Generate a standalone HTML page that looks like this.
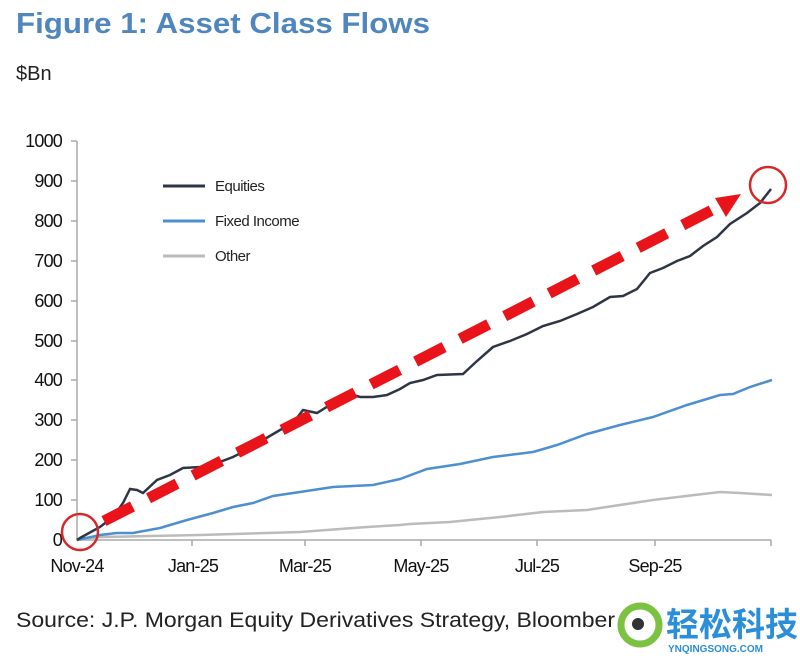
<!DOCTYPE html><html><head><style>body{margin:0;background:#fff;width:800px;height:655px;overflow:hidden;font-family:"Liberation Sans",Arial,sans-serif}</style></head><body>
<svg width="800" height="655" xmlns="http://www.w3.org/2000/svg" font-family="Liberation Sans, Arial, sans-serif">
<text x="16" y="33" font-size="29" font-weight="bold" fill="#4f86bd" textLength="414" lengthAdjust="spacingAndGlyphs">Figure 1: Asset Class Flows</text>
<text x="16" y="80" font-size="20" fill="#222">$Bn</text>
<g font-size="18" fill="#111" text-anchor="end" letter-spacing="-0.8">
<text x="62" y="147">1000</text><text x="62" y="187">900</text><text x="62" y="227">800</text><text x="62" y="267">700</text><text x="62" y="307">600</text><text x="62" y="347">500</text><text x="62" y="386">400</text><text x="62" y="426">300</text><text x="62" y="466">200</text><text x="62" y="506">100</text><text x="62" y="546">0</text>
</g>
<g stroke="#aaa" stroke-width="1.5" fill="none">
<path d="M77 141V540H771"/>
<path d="M71 141h6M71 181h6M71 221h6M71 261h6M71 301h6M71 341h6M71 380h6M71 420h6M71 460h6M71 500h6M192 540v6M305 540v6M421 540v6M537 540v6M655 540v6M771 540v6"/>
</g>
<g font-size="18" fill="#111" text-anchor="middle" letter-spacing="-0.8">
<text x="77" y="572">Nov-24</text><text x="193" y="572">Jan-25</text><text x="305" y="572">Mar-25</text><text x="421" y="572">May-25</text><text x="537" y="572">Jul-25</text><text x="655" y="572">Sep-25</text>
</g>
<polyline fill="none" stroke="#bbb" stroke-width="2.5" points="77,540 100,537 200,535 300,532 367,527 400,525 410,524 450,522 500,517 543,512 587,510 653,500 703,494 720,492 740,493 772,495"/>
<polyline fill="none" stroke="#4d8fd0" stroke-width="2.5" points="77,540 100,535 117,533 133,533 160,528 187,520 213,513 233,507 253,503 273,496 300,492 333,487 373,485 400,479 427,469 460,464 493,457 533,452 557,445 587,434 620,425 653,417 687,405 720,395 733,394 750,387 772,380"/>
<polyline fill="none" stroke="#2e3645" stroke-width="2.5" points="77,540 80,538 100,527 113,517 123,503 130,489 137,490 143,493 157,480 170,475 183,468 200,467 217,463 233,457 247,450 263,440 280,430 293,423 303,410 317,413 333,403 347,393 360,397 373,397 387,395 400,389 410,383 423,380 437,375 463,374 477,361 493,347 510,341 527,334 543,326 560,321 577,314 593,307 610,297 623,296 637,289 650,273 663,268 677,261 690,256 703,246 717,237 730,224 747,213 760,203 771,189"/>
<line x1="104" y1="521" x2="718" y2="207" stroke="#e8141a" stroke-width="11" stroke-dasharray="32,18"/>
<polygon points="741,194 715,198 726,217" fill="#e8141a"/>
<circle cx="80" cy="532" r="18" fill="none" stroke="#d62a2a" stroke-width="2.5"/>
<circle cx="768" cy="185" r="18" fill="none" stroke="#d62a2a" stroke-width="2.5"/>
<g font-size="15" fill="#222" letter-spacing="-0.5">
<line x1="163" y1="186" x2="205" y2="186" stroke="#2e3645" stroke-width="3"/><text x="215" y="191">Equities</text>
<line x1="163" y1="221" x2="205" y2="221" stroke="#4d8fd0" stroke-width="3"/><text x="215" y="226">Fixed Income</text>
<line x1="163" y1="256" x2="205" y2="256" stroke="#bbb" stroke-width="3"/><text x="215" y="261">Other</text>
</g>
<text x="16" y="627" font-size="21" fill="#222" textLength="599" lengthAdjust="spacingAndGlyphs">Source: J.P. Morgan Equity Derivatives Strategy, Bloomber</text>
<circle cx="640" cy="625" r="19" fill="none" stroke="#7cc242" stroke-width="7"/>
<circle cx="638" cy="624" r="6" fill="#333"/>
<text x="666" y="636" font-size="33" font-weight="bold" fill="#2a8fd8" font-family="Liberation Sans, Noto Sans CJK SC, sans-serif">轻松科技</text>
<text x="668" y="652" font-size="10" font-weight="bold" fill="#2a8fd8">YNQINGSONG.COM</text>
</svg></body></html>
